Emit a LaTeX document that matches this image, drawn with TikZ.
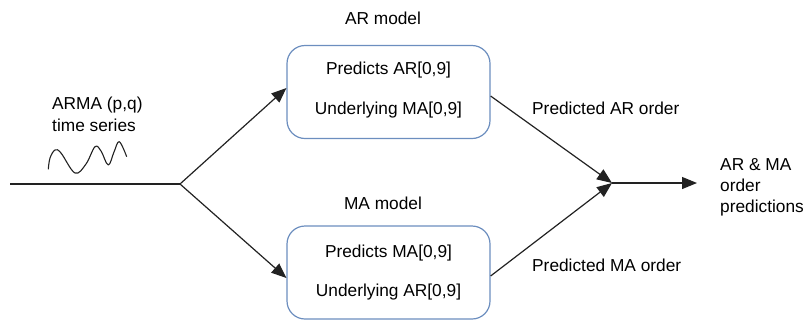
\documentclass[tikz,border=0pt]{standalone}
\usepackage{fontspec}
\setmainfont{Liberation Sans}
\usetikzlibrary{arrows.meta}
\definecolor{boxblue}{HTML}{6C8EBF}
\definecolor{linegray}{HTML}{222222}
\tikzset{
  model/.style={draw=boxblue, line width=1.2pt, rounded corners=18pt, fill=white,
    minimum width=203pt, minimum height=93pt, inner sep=0pt},
  lbl/.style={inner sep=0pt, font=\fontsize{17.3}{21}\selectfont},
  flow/.style={draw=linegray, line width=1.2pt},
  arr/.style={flow, -{Triangle[length=15pt, width=12pt]}},
}
\begin{document}
\begin{tikzpicture}[x=1pt, y=-1pt]
  \useasboundingbox (0,0) rectangle (810,325);

  % model boxes
  \node[model] (ar) at (388.5,92) {};
  \node[model] (ma) at (388.5,272.5) {};
  \node[lbl] at (388.5,70) {Predicts AR[0,9]};
  \node[lbl] at (388.5,110) {Underlying MA[0,9]};
  \node[lbl] at (388.5,253) {Predicts MA[0,9]};
  \node[lbl] at (388.5,292) {Underlying AR[0,9]};
  \node[lbl] (arlabel) at (383,18) {AR model};
  \node[lbl] (malabel) at (383,203) {MA model};

  % input series
  \node[lbl, align=left, anchor=north west] (input) at (52,97) {ARMA (p,q)\\[1pt]time series};
  \draw[flow, line width=1.1pt, line join=round]
    plot[smooth, tension=0.6] coordinates {(48.3,169.3) (50,158) (55,150) (61,153) (75,173) (86,164) (95,146.7) (101,151) (108.3,165) (114,152) (119.3,141.7) (126.7,156.7)};

  % branching and merging points
  \coordinate (start) at (10,184);
  \coordinate (split) at (180,184);
  \coordinate (merge) at (612,183);
  \coordinate (out) at (697,183);

  \draw[flow] (start) -- (split);
  \draw[arr] (split) -- ([yshift=4pt]ar.west);
  \draw[arr] (split) -- ([yshift=-5.5pt]ma.west);
  \draw[arr] ([yshift=-4pt]ar.east) -- (merge);
  \draw[arr] ([yshift=-3.5pt]ma.east) -- (merge);
  \draw[arr] (merge) -- (out);

  % connector labels
  \node[lbl, anchor=west] (arorder) at (532,108) {Predicted AR order};
  \node[lbl, anchor=west] (maorder) at (532,265) {Predicted MA order};
  \node[lbl, align=left, anchor=north west] (result) at (720,158) {AR \& MA\\order\\predictions};
\end{tikzpicture}
\end{document}
